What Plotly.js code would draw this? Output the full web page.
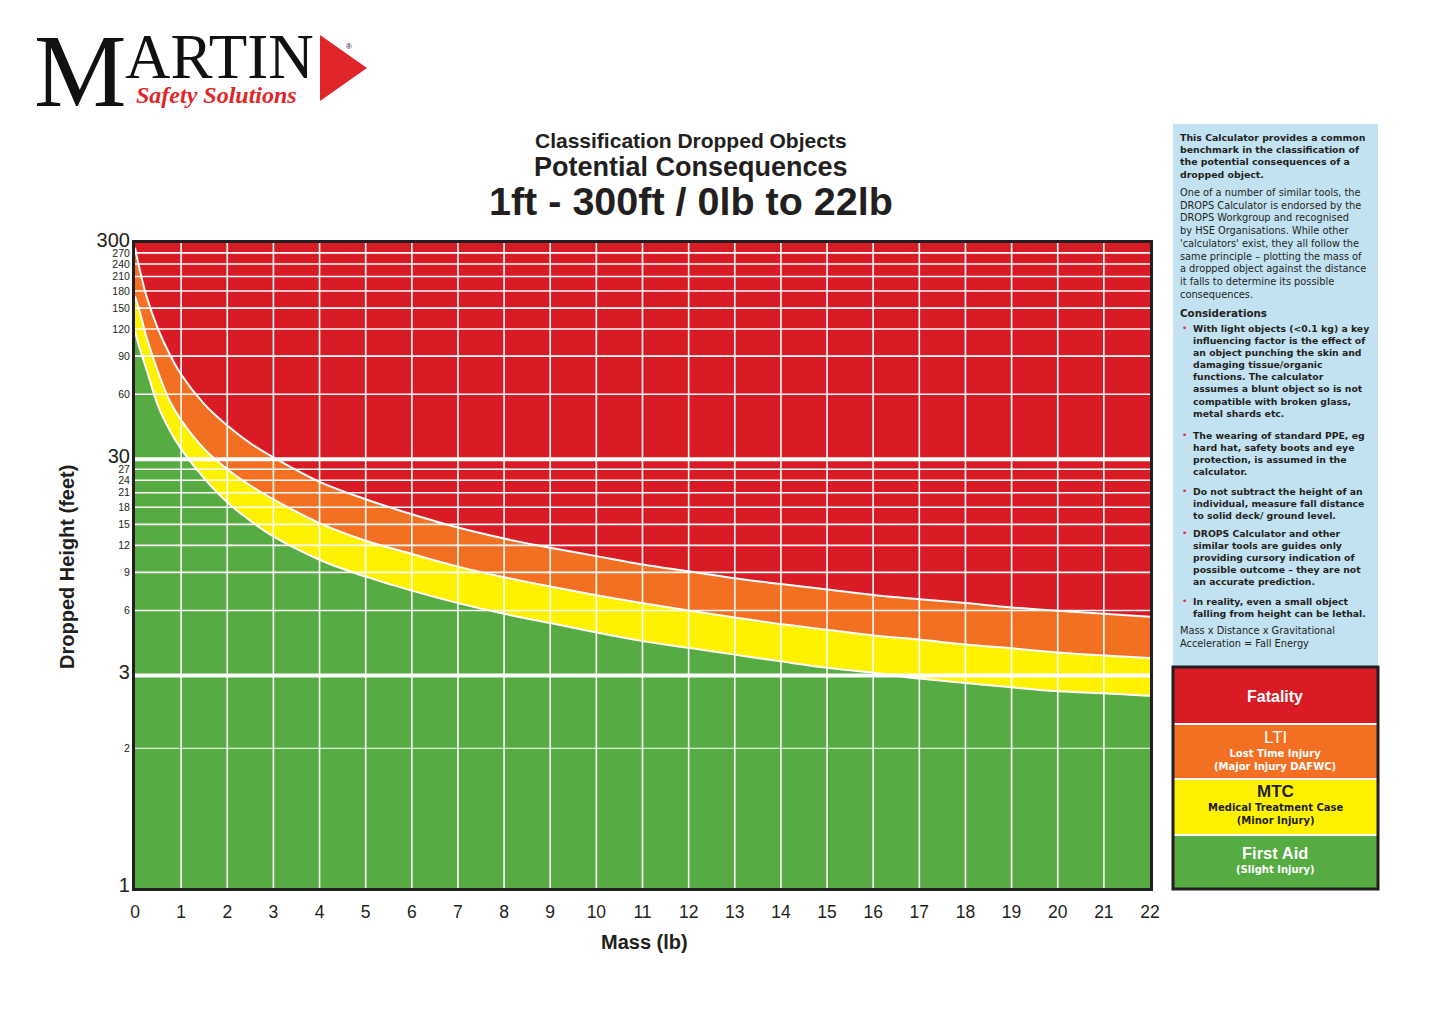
<!DOCTYPE html>
<html><head><meta charset="utf-8">
<script src="https://cdn.plot.ly/plotly-3.0.1.min.js"></script>
<style>html,body{margin:0;padding:0;background:#fff}</style>
</head><body><div id="chart" style="width:1430px;height:1011px"></div>
<script>
// ---------- DATA ----------
const massFatality   = [0, 0.1, 0.25, 0.5, 0.75, 1, 1.5, 2, 2.5, 3, 4, 5, 6, 7, 8, 9, 10, 11, 12, 13, 14, 15, 16, 17, 18, 19, 20, 21, 22];
const heightFatality = [285, 227, 170, 120, 92, 74, 54, 43, 35.6, 30.6, 23.6, 19.6, 16.7, 14.5, 12.9, 11.7, 10.7, 9.8, 9.1, 8.46, 7.95, 7.5, 7.08, 6.77, 6.49, 6.2, 5.98, 5.79, 5.61];

const massLTI   = [0, 0.1, 0.25, 0.5, 0.75, 1, 1.5, 2, 2.5, 3, 4, 5, 6, 7, 8, 9, 10, 11, 12, 13, 14, 15, 16, 17, 18, 19, 20, 21, 22];
const heightLTI = [170, 145, 110, 76, 56, 45.5, 33.5, 27, 22.7, 19.6, 15.2, 12.6, 10.95, 9.57, 8.55, 7.74, 7.06, 6.49, 6.0, 5.57, 5.19, 4.89, 4.60, 4.40, 4.18, 4.01, 3.84, 3.72, 3.62];

const massMTC   = [0, 0.1, 0.25, 0.5, 0.75, 1, 1.5, 2, 2.5, 3, 4, 5, 6, 7, 8, 9, 10, 11, 12, 13, 14, 15, 16, 17, 18, 19, 20, 21, 22];
const heightMTC = [117, 98, 78, 53, 41, 33.5, 24.5, 19.0, 15.6, 13.2, 10.3, 8.6, 7.41, 6.49, 5.79, 5.25, 4.75, 4.33, 4.03, 3.75, 3.49, 3.26, 3.09, 2.95, 2.88, 2.81, 2.75, 2.72, 2.68];

const xTicks      = [0,1,2,3,4,5,6,7,8,9,10,11,12,13,14,15,16,17,18,19,20,21,22];
const yTicks      = [1,2,3,6,9,12,15,18,21,24,27,30,60,90,120,150,180,210,240,270,300];
const yTicksBig   = [1,3,30,300];
const gridX       = [1,2,3,4,5,6,7,8,9,10,11,12,13,14,15,16,17,18,19,20,21];
const gridYMinor  = [6,9,12,15,18,21,24,27,60,90,120,150,180,210,240,270];
const gridYMajor  = [3,30];
const gridYThin   = [2];

// ---------- styling ----------
const RED='#d81b24', ORANGE='#f37022', YELLOW='#fff200', GREEN='#56ab42', INK='#231f20', BLUE='#c2e2f2';
const FONT='Liberation Sans, Arial, Helvetica, sans-serif';
const PFONT='DejaVu Sans, Liberation Sans, sans-serif';

// piecewise-log height axis (as printed on the chart)
const knotV=[1,2,3,30,300], knotT=[0,0.646,0.982,1.982,2.982];
function T(v){
  let i=0;
  while(i<knotV.length-2 && v>knotV[i+1]) i++;
  return knotT[i]+(knotT[i+1]-knotT[i])*Math.log(v/knotV[i])/Math.log(knotV[i+1]/knotV[i]);
}

const L=135,R=1150,TOP=243,BOT=888;
const px=x=>(x-L)/(R-L), py=y=>(BOT-y)/(BOT-TOP);

function band(xs,ys,color){
  return {x:xs,y:ys.map(T),mode:'lines',type:'scatter',
    line:{color:'#ffffff',width:2,shape:'spline',smoothing:1},
    fill:'tozeroy',fillcolor:color,hoverinfo:'skip',showlegend:false};
}
const data=[band(massFatality,heightFatality,ORANGE),band(massLTI,heightLTI,YELLOW),band(massMTC,heightMTC,GREEN)];

const shapes=[];
gridX.forEach(g=>shapes.push({type:'line',layer:'above',xref:'x',yref:'paper',x0:g,x1:g,y0:0,y1:1,line:{color:'#fff',width:1.6}}));
gridYMinor.forEach(g=>shapes.push({type:'line',layer:'above',xref:'paper',yref:'y',x0:0,x1:1,y0:T(g),y1:T(g),line:{color:'#fff',width:1.6}}));
gridYThin.forEach(g=>shapes.push({type:'line',layer:'above',xref:'paper',yref:'y',x0:0,x1:1,y0:T(g),y1:T(g),line:{color:'#fff',width:1}}));
gridYMajor.forEach(g=>shapes.push({type:'line',layer:'above',xref:'paper',yref:'y',x0:0,x1:1,y0:T(g),y1:T(g),line:{color:'#fff',width:4}}));

function rectPx(x0,y0,x1,y1,fill,line){
  return {type:'rect',xref:'paper',yref:'paper',layer:'below',x0:px(x0),x1:px(x1),y0:py(y1),y1:py(y0),
    fillcolor:fill||'rgba(0,0,0,0)',line:line||{width:0}};
}
// side panel
shapes.push(rectPx(1173,124,1378,666,BLUE));
shapes.push(rectPx(1173,668,1378,723,RED));
shapes.push(rectPx(1173,725,1378,778,ORANGE));
shapes.push(rectPx(1173,780,1378,834,YELLOW));
shapes.push(rectPx(1173,836,1378,888,GREEN));
shapes.push(Object.assign(rectPx(1173,667,1378,889,null,{color:INK,width:3}),{layer:'above'}));
// logo triangle
shapes.push({type:'path',xref:'paper',yref:'paper',fillcolor:'#e0262b',line:{width:0},
  path:`M ${px(320)},${py(35)} L ${px(367)},${py(68)} L ${px(320)},${py(101)} Z`});

const ann=[];
function A(text,x,y,size,opts){
  ann.push(Object.assign({text:text,xref:'paper',yref:'paper',x:px(x),y:py(y),showarrow:false,
    xanchor:'center',yanchor:'middle',font:{family:FONT,size:size,color:INK}},opts||{}));
}
// titles
A('<b>Classification Dropped Objects</b>',691,140,21);
A('<b>Potential Consequences</b>',691,167,27);
A('<b>1ft - 300ft / 0lb to 22lb</b>',691,201,39.5);
A('<b>Mass (lb)</b>',644,942,20);
A('<b>Dropped Height (feet)</b>',67,567,20,{textangle:-90});

// logo
const SERIF='Liberation Serif, Times New Roman, serif';
A('M',80,70,104,{font:{family:SERIF,size:104,color:'#111'}});
A('ARTIN',219,57,63,{font:{family:SERIF,size:63,color:'#111'}});
A('<b><i>Safety Solutions</i></b>',216,95,24,{font:{family:SERIF,size:24,color:'#e0262b'}});
A('®',349,46,8,{font:{family:FONT,size:8,color:'#111'}});

// side panel text
function P(text,x,y,size,bold,color){
  ann.push({text:bold?'<b>'+text+'</b>':text,xref:'paper',yref:'paper',x:px(x),y:py(y),showarrow:false,
    xanchor:'left',yanchor:'top',align:'left',font:{family:PFONT,size:size,color:color||INK}});
}
P('This Calculator provides a common<br>benchmark in the classification of<br>the potential consequences of a<br>dropped object.',1178,130,9.4,true);
P("One of a number of similar tools, the<br>DROPS Calculator is endorsed by the<br>DROPS Workgroup and recognised<br>by HSE Organisations. While other<br>'calculators' exist, they all follow the<br>same principle – plotting the mass of<br>a dropped object against the distance<br>it falls to determine its possible<br>consequences.",1178,185,9.8,false);
P('Considerations',1178,305,10.3,true);
const bullets=[
  ['With light objects (&lt;0.1 kg) a key<br>influencing factor is the effect of<br>an object punching the skin and<br>damaging tissue/organic<br>functions. The calculator<br>assumes a blunt object so is not<br>compatible with broken glass,<br>metal shards etc.',321],
  ['The wearing of standard PPE, eg<br>hard hat, safety boots and eye<br>protection, is assumed in the<br>calculator.',428],
  ['Do not subtract the height of an<br>individual, measure fall distance<br>to solid deck/ ground level.',484],
  ['DROPS Calculator and other<br>similar tools are guides only<br>providing cursory indication of<br>possible outcome – they are not<br>an accurate prediction.',526],
  ['In reality, even a small object<br>falling from height can be lethal.',594]
];
bullets.forEach(b=>{
  P(b[0],1191,b[1],9.3,true);
  P('•',1180,b[1],9,false,'#e0262b');
});
P('Mass x Distance x Gravitational<br>Acceleration = Fall Energy',1178,623,9.8,false);

// legend text
A('<b>Fatality</b>',1275,696,16,{font:{family:FONT,size:16,color:'#fff'}});
A('LTI',1275,737,17,{font:{family:FONT,size:17,color:'#fff'}});
A('<b>Lost Time Injury<br>(Major Injury DAFWC)</b>',1275,760,10,{font:{family:PFONT,size:10,color:'#fff'}});
A('<b>MTC</b>',1275,791,17,{font:{family:FONT,size:17,color:INK}});
A('<b>Medical Treatment Case<br>(Minor Injury)</b>',1275,814,10,{font:{family:PFONT,size:10,color:INK}});
A('<b>First Aid</b>',1275,853,16.5,{font:{family:FONT,size:16.5,color:'#fff'}});
A('<b>(Slight Injury)</b>',1275,869,10,{font:{family:PFONT,size:10,color:'#fff'}});

const layout={
  width:1430,height:1011,autosize:false,
  margin:{l:L,r:1430-R,t:TOP,b:1011-BOT,pad:0},
  paper_bgcolor:'#ffffff',plot_bgcolor:RED,
  showlegend:false,
  font:{family:FONT,color:INK},
  xaxis:{range:[0,22],tickvals:xTicks,ticktext:xTicks.map(String),ticks:'',ticklabelstandoff:6,showgrid:false,zeroline:false,
    showline:true,mirror:true,linewidth:3,linecolor:INK,tickfont:{size:17.5,color:INK},layer:'above traces',fixedrange:true},
  yaxis:{range:[0,T(300)],tickvals:yTicks.map(T),
    ticktext:yTicks.map(v=>yTicksBig.includes(v)?'<span style="font-size:20px">'+v+'</span>':String(v)),
    ticks:'',showgrid:false,zeroline:false,showline:true,mirror:true,linewidth:3,linecolor:INK,
    tickfont:{size:10.5,color:INK},layer:'above traces',fixedrange:true},
  shapes:shapes,annotations:ann
};
Plotly.newPlot('chart',data,layout,{staticPlot:true,displayModeBar:false});
</script></body></html>
